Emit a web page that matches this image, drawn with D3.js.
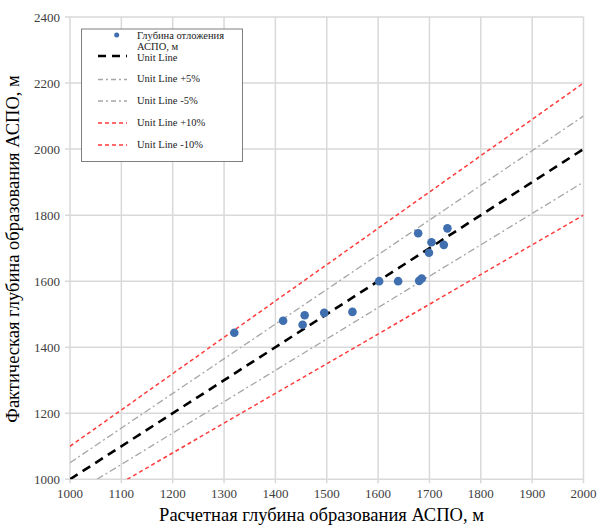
<!DOCTYPE html>
<html><head><meta charset="utf-8">
<script src="https://cdn.jsdelivr.net/npm/d3@7"></script>
<style>body{margin:0;background:#fff}svg{display:block}</style>
</head><body>
<script>
const xTicks = [1000,1100,1200,1300,1400,1500,1600,1700,1800,1900,2000];
const yTicks = [1000,1200,1400,1600,1800,2000,2200,2400];
const calcDepth = [1320,1415,1457,1453,1495,1550,1602,1639,1680,1685,1678,1735,1704,1728,1699];
const factDepth = [1444,1480,1497,1468,1504,1507,1600,1600,1601,1608,1745,1760,1718,1710,1686];
const lineFactors = [1, 1.05, 0.95, 1.10, 0.90];
const lineNames = ["Unit Line","Unit Line +5%","Unit Line -5%","Unit Line +10%","Unit Line -10%"];
const seriesName = ["Глубина отложения","АСПО, м"];
const xTitle = "Расчетная глубина образования АСПО, м";
const yTitle = "Фактическая глубина образования АСПО, м";

const FONT = "'Liberation Serif', 'DejaVu Serif', serif";
const W=598,H=525;
const m={l:70,r:14.5,t:17,b:45.7};
const svg=d3.select("body").append("svg").attr("width",W).attr("height",H)
  .attr("font-family",FONT);
const x=d3.scaleLinear().domain([1000,2000]).range([m.l,W-m.r]);
const y=d3.scaleLinear().domain([1000,2400]).range([H-m.b,m.t]);

const styles=[
 {stroke:"#000",w:2.6,dash:"9,6"},
 {stroke:"#a6a6a6",w:1.3,dash:"7,3,2,3"},
 {stroke:"#a6a6a6",w:1.3,dash:"7,3,2,3"},
 {stroke:"#ff3b3b",w:1.5,dash:"4,3"},
 {stroke:"#ff3b3b",w:1.5,dash:"4,3"}
];

// grid
svg.append("g").selectAll("line").data(xTicks).join("line")
 .attr("x1",d=>x(d)).attr("x2",d=>x(d)).attr("y1",y(1000)+4).attr("y2",y(2400))
 .attr("stroke","#d9d9d9").attr("stroke-width",1.5);
svg.append("g").selectAll("line").data(yTicks).join("line")
 .attr("x1",x(1000)-5).attr("x2",x(2000)).attr("y1",d=>y(d)).attr("y2",d=>y(d))
 .attr("stroke","#d9d9d9").attr("stroke-width",1.5);

// tick labels
svg.append("g").selectAll("text").data(xTicks).join("text")
 .attr("x",d=>x(d)).attr("y",H-m.b+19).attr("text-anchor","middle")
 .attr("font-size",13).attr("fill","#404040").text(d=>d);
svg.append("g").selectAll("text").data(yTicks).join("text")
 .attr("x",m.l-10).attr("y",d=>y(d)+4.5).attr("text-anchor","end")
 .attr("font-size",13).attr("fill","#404040").text(d=>d);

// lines
svg.append("clipPath").attr("id","c").append("rect")
 .attr("x",m.l).attr("y",m.t).attr("width",W-m.l-m.r).attr("height",H-m.t-m.b);
const lg=svg.append("g").attr("clip-path","url(#c)");
const line=d3.line().x(d=>x(d[0])).y(d=>y(d[1]));
lineFactors.forEach((f,i)=>{
  const x0=Math.max(1000,1000/f), x1=Math.min(2000,2400/f);
  lg.append("path").attr("d",line([[x0,x0*f],[x1,x1*f]])).attr("fill","none")
   .attr("stroke",styles[i].stroke).attr("stroke-width",styles[i].w).attr("stroke-dasharray",styles[i].dash);
});

// points
svg.append("g").selectAll("circle").data(calcDepth).join("circle")
 .attr("cx",d=>x(d)).attr("cy",(d,i)=>y(factDepth[i])).attr("r",4.3).attr("fill","#3f6fae");

// legend
const L=svg.append("g");
L.append("rect").attr("x",81.5).attr("y",29).attr("width",161).attr("height",132.5)
 .attr("fill","#fff").attr("stroke","#7f7f7f").attr("stroke-width",1);
L.append("circle").attr("cx",116.7).attr("cy",35).attr("r",2.5).attr("fill","#3f6fae");
L.append("text").attr("x",137).attr("y",38.5).attr("font-size",10.5).attr("fill","#222").text(seriesName[0]);
L.append("text").attr("x",137).attr("y",50).attr("font-size",10.5).attr("fill","#222").text(seriesName[1]);
const ly=[57.5,78.5,100,122,144];
lineNames.forEach((n,i)=>{
  L.append("line").attr("x1",98).attr("x2",127).attr("y1",ly[i]+(i===0?-1.5:1)).attr("y2",ly[i]+(i===0?-1.5:1))
   .attr("stroke",styles[i].stroke).attr("stroke-width",i===0?2.6:1.3)
   .attr("stroke-dasharray",i===0?"8,6":(i<3?"5,3,2,3":"4,3"));
  L.append("text").attr("x",137).attr("y",ly[i]+3.5).attr("font-size",10.5).attr("fill","#222").text(n);
});

// titles
svg.append("text").attr("x",(155+488)/2).attr("y",H-4).attr("text-anchor","middle")
 .attr("font-size",18.5).attr("fill","#000").text(xTitle);
svg.append("text").attr("transform",`translate(19,${(20+478)/2}) rotate(-90)`).attr("text-anchor","middle")
 .attr("font-size",18.5).attr("fill","#000").text(yTitle);
</script>
</body></html>
